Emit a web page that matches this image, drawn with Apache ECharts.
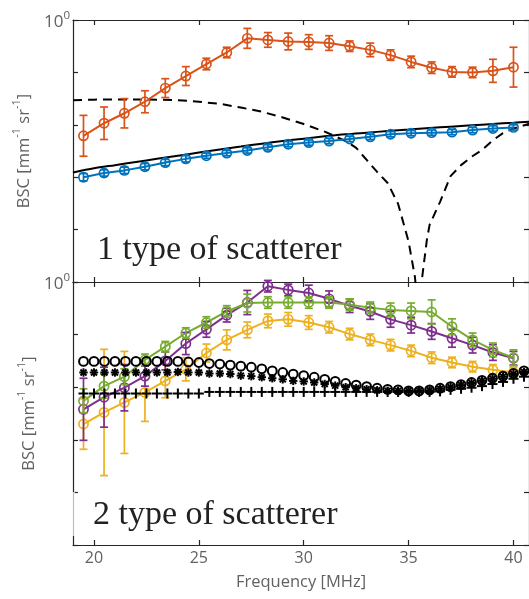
<!DOCTYPE html>
<html><head><meta charset="utf-8">
<script src="https://cdn.jsdelivr.net/npm/echarts@6/dist/echarts.min.js"></script>
<style>html,body{margin:0;padding:0;background:#fff}#c{width:529px;height:599px}</style>
</head><body><div id="c"></div>
<script>
// ---------- data ----------
const freq = [19.5,20.48,21.45,22.43,23.4,24.38,25.36,26.33,27.31,28.29,29.26,30.24,31.21,32.19,33.17,34.14,35.12,36.1,37.07,38.05,39.02,40.0];
const fineFreq = [19.5,20,20.5,21,21.5,22,22.5,23,23.5,24,24.5,25,25.5,26,26.5,27,27.5,28,28.5,29,29.5,30,30.5,31,31.5,32,32.5,33,33.5,34,34.5,35,35.5,36,36.5,37,37.5,38,38.5,39,39.5,40,40.5];
const xTicks = [20,25,30,35,40];

// top panel: 1 type of scatterer
const orangeBSC = [2.79,3.03,3.22,3.44,3.70,3.93,4.16,4.38,4.65,4.62,4.59,4.58,4.56,4.50,4.43,4.33,4.20,4.09,4.01,4.00,4.03,4.10];
const orangeErr = [0.39,0.31,0.28,0.21,0.18,0.18,0.11,0.10,0.19,0.14,0.16,0.14,0.14,0.10,0.13,0.10,0.11,0.11,0.10,0.10,0.22,0.38];
const blueBSC = [2.00,2.08,2.13,2.20,2.28,2.35,2.41,2.46,2.51,2.57,2.63,2.66,2.69,2.73,2.77,2.82,2.84,2.85,2.86,2.90,2.93,2.95];
const blueErr = [0.07,0.06,0.06,0.06,0.06,0.06,0.05,0.05,0.05,0.05,0.05,0.05,0.05,0.05,0.05,0.05,0.05,0.05,0.05,0.05,0.05,0.05];
const theoryFreq = [19,20,21,22,23,24,25,26,27,28,29,30,31,32,33,34,35,36,37,38,39,40,40.75];
const theorySolid = [2.09,2.17,2.23,2.29,2.35,2.41,2.47,2.53,2.585,2.64,2.69,2.735,2.78,2.82,2.85,2.88,2.91,2.94,2.965,2.99,3.015,3.04,3.06];
const dashFreq = [19,20,21,22,23,24,25,26,27,28,29,30,31,32,32.5,33,33.5,34,34.5,35,35.3,35.47,35.65,35.87,36,36.5,37,37.5,38,38.5,39,39.5,40,40.75];
const theoryDashed = [3.47,3.48,3.485,3.485,3.48,3.47,3.44,3.40,3.33,3.25,3.14,3.015,2.87,2.69,2.56,2.33,2.10,1.89,1.49,0.77,0.10,-0.6,0.10,0.80,1.09,1.53,2.02,2.23,2.39,2.52,2.70,2.84,2.93,3.02];

// bottom panel: 2 type of scatterer
const greenBSC = [2.74,3.02,3.20,3.52,3.77,4.03,4.23,4.44,4.60,4.61,4.61,4.61,4.61,4.57,4.51,4.47,4.45,4.43,4.15,3.90,3.71,3.56];
const greenErr = [0.23,0.23,0.15,0.11,0.10,0.10,0.11,0.11,0.17,0.11,0.11,0.11,0.11,0.11,0.11,0.13,0.15,0.23,0.15,0.13,0.13,0.15];
const purpleBSC = [2.58,2.81,2.99,3.21,3.50,3.83,4.10,4.37,4.61,4.92,4.85,4.79,4.68,4.55,4.44,4.29,4.18,4.06,3.93,3.80,3.66,3.55];
const purpleErr = [0.59,0.57,0.44,0.19,0.17,0.21,0.15,0.13,0.23,0.11,0.11,0.15,0.15,0.13,0.15,0.15,0.15,0.15,0.17,0.15,0.15,0.13];
const yellowBSC = [2.30,2.52,2.71,2.90,3.12,3.34,3.65,3.90,4.09,4.26,4.29,4.23,4.14,4.01,3.90,3.80,3.69,3.56,3.47,3.39,3.33,3.28];
const yellowErr = [0.48,1.20,0.97,0.55,0.32,0.22,0.17,0.19,0.15,0.13,0.13,0.13,0.11,0.11,0.11,0.11,0.11,0.11,0.10,0.10,0.10,0.10];
const circleBSC = [3.49,3.49,3.49,3.49,3.49,3.49,3.49,3.49,3.49,3.49,3.48,3.47,3.45,3.44,3.42,3.40,3.38,3.35,3.31,3.28,3.25,3.22,3.19,3.15,3.11,3.07,3.04,3.01,2.98,2.96,2.95,2.93,2.93,2.95,2.98,3.01,3.05,3.09,3.13,3.17,3.21,3.26,3.31];
const starBSC = [3.28,3.28,3.28,3.28,3.28,3.28,3.28,3.28,3.28,3.29,3.28,3.28,3.26,3.26,3.25,3.22,3.21,3.19,3.17,3.15,3.12,3.11,3.09,3.06,3.03,3.00,2.98,2.96,2.94,2.93,2.93,2.93,2.93,2.94,2.97,3.00,3.04,3.08,3.12,3.16,3.20,3.25,3.29];
const plusBSC = [2.88,2.88,2.88,2.88,2.88,2.88,2.88,2.88,2.88,2.88,2.88,2.88,2.91,2.91,2.91,2.91,2.91,2.91,2.91,2.91,2.91,2.91,2.91,2.91,2.91,2.91,2.91,2.91,2.91,2.91,2.91,2.91,2.91,2.91,2.92,2.95,2.97,2.99,3.02,3.06,3.10,3.16,3.20];

// ---------- helpers ----------
const C = {orange:'#D95319', blue:'#0072BD', green:'#77AC30', purple:'#7E2F8E', yellow:'#EDB120'};
const AX = '#262626', LBL = '#616161';
const zip = (xs, ys, es) => xs.map((x,i)=> es ? [x, ys[i], es[i]] : [x, ys[i]]);

function errRender(color){
  return function(params, api){
    const x = api.value(0), y = api.value(1), e = api.value(2);
    const c = api.coord([x,y]), t = api.coord([x,y+e]), b = api.coord([x,y-e]);
    const w = 4, st = {stroke: color, lineWidth: 1.7, fill: null};
    return {type:'group', children:[
      {type:'line', shape:{x1:t[0],y1:t[1],x2:b[0],y2:b[1]}, style:st},
      {type:'line', shape:{x1:t[0]-w,y1:t[1],x2:t[0]+w,y2:t[1]}, style:st},
      {type:'line', shape:{x1:b[0]-w,y1:b[1],x2:b[0]+w,y2:b[1]}, style:st},
      {type:'circle', shape:{cx:c[0],cy:c[1],r:4.6}, style:st}
    ]};
  };
}
function markRender(kind){
  return function(params, api){
    const c = api.coord([api.value(0), api.value(1)]);
    const st = {stroke:'#000', lineWidth: 2, fill: null};
    if (kind === 'o') return {type:'circle', shape:{cx:c[0],cy:c[1],r:4.4}, style:st};
    const s = kind === '+' ? 5 : 4.2;
    const ch = [
      {type:'line', shape:{x1:c[0]-s,y1:c[1],x2:c[0]+s,y2:c[1]}, style:st},
      {type:'line', shape:{x1:c[0],y1:c[1]-s,x2:c[0],y2:c[1]+s}, style:st}
    ];
    if (kind === '*') {
      const d = s*0.72;
      ch.push({type:'line', shape:{x1:c[0]-d,y1:c[1]-d,x2:c[0]+d,y2:c[1]+d}, style:st});
      ch.push({type:'line', shape:{x1:c[0]-d,y1:c[1]+d,x2:c[0]+d,y2:c[1]-d}, style:st});
    }
    return {type:'group', children: ch};
  };
}
const lineS = (xi, yi, data, color, extra) => Object.assign({
  type:'line', xAxisIndex:xi, yAxisIndex:yi, data, showSymbol:false, silent:true,
  lineStyle:{color, width:2}, itemStyle:{color}, animation:false, z:3
}, extra||{});
const errS = (xi, yi, data, color) => ({
  type:'custom', xAxisIndex:xi, yAxisIndex:yi, data, renderItem: errRender(color),
  encode:{x:0,y:1}, animation:false, silent:true, z:4
});
const markS = (data, kind) => ({
  type:'custom', xAxisIndex:2, yAxisIndex:2, data, renderItem: markRender(kind),
  encode:{x:0,y:1}, animation:false, silent:true, z:6
});

const XMIN = 19, XMAX = 40.74;
function xAx(gi, pos, labels){
  return {
    type:'value', gridIndex:gi, position:pos, min:XMIN, max:XMAX,
    axisLine:{show:true, onZero:false, lineStyle:{color:AX, width:1.2}},
    axisTick:{show:true, inside:true, length:5, customValues:xTicks, lineStyle:{color:AX, width:1.2}},
    axisLabel:{show:labels, customValues:xTicks, color:LBL, fontSize:16, fontFamily:'Open Sans', margin:5},
    splitLine:{show:false},
    name: labels ? 'Frequency [MHz]' : '', nameLocation:'middle', nameGap:29,
    nameTextStyle:{color:LBL, fontSize:16.5, fontFamily:'Open Sans'}
  };
}
const yName = '{a|BSC [mm}{s|-1}{a| sr}{s|-1}{a|]}';
const yNameStyle = {color:LBL, fontFamily:'Open Sans', rich:{
  a:{fontSize:16.5, color:LBL, fontFamily:'Open Sans', lineHeight:22, verticalAlign:'bottom'},
  s:{fontSize:11, color:LBL, fontFamily:'Open Sans', lineHeight:13, verticalAlign:'top'}
}};
function yAx(gi, pos, labels, named){
  return {
    type:'value', gridIndex:gi, position:pos, min:0, max:5, interval:1,
    axisLine:{show:true, onZero:false, lineStyle:{color:AX, width:1.2}},
    axisTick:{show:true, inside:true, length:5, lineStyle:{color:AX, width:1.2}},
    axisLabel:{show:labels, margin:3, showMinLabel:true, showMaxLabel:true,
      formatter: v => (v===0 || v===5) ? '{b|10}{s|0}' : '',
      rich:{
        b:{fontSize:17, color:LBL, fontFamily:'Open Sans', lineHeight:21, verticalAlign:'bottom'},
        s:{fontSize:11.5, color:LBL, fontFamily:'Open Sans', lineHeight:12, verticalAlign:'top'}
      }},
    splitLine:{show:false},
    name: named ? yName : '', nameLocation:'middle', nameGap:35, nameRotate:90,
    nameTextStyle: yNameStyle
  };
}

const option = {
  backgroundColor:'#fff',
  animation:false,
  grid:[
    {left:73, top:20, width:460, height:262},
    {left:73, top:282, width:460, height:263}
  ],
  xAxis:[ xAx(0,'bottom',false), xAx(0,'top',false), xAx(1,'bottom',true), xAx(1,'top',false) ],
  yAxis:[ yAx(0,'left',true,true), yAx(0,'right',false,false), yAx(1,'left',false,true), yAx(1,'right',false,false) ],
  series:[
    lineS(0,0, zip(theoryFreq, theorySolid), '#000', {smooth:0.3}),
    lineS(0,0, zip(dashFreq, theoryDashed), '#000', {lineStyle:{color:'#000', width:2, type:[9,6]}}),
    lineS(0,0, zip(freq, orangeBSC), C.orange),
    errS(0,0, zip(freq, orangeBSC, orangeErr), C.orange),
    lineS(0,0, zip(freq, blueBSC), C.blue),
    errS(0,0, zip(freq, blueBSC, blueErr), C.blue),

    lineS(2,2, zip(freq, yellowBSC), C.yellow),
    errS(2,2, zip(freq, yellowBSC, yellowErr), C.yellow),
    lineS(2,2, zip(freq, purpleBSC), C.purple),
    errS(2,2, zip(freq, purpleBSC, purpleErr), C.purple),
    lineS(2,2, zip(freq, greenBSC), C.green),
    errS(2,2, zip(freq, greenBSC, greenErr), C.green),
    markS(zip(fineFreq, circleBSC), 'o'),
    markS(zip(fineFreq, starBSC), '*'),
    markS(zip(fineFreq, plusBSC), '+')
  ],
  graphic:[
    {type:'text', left:97, top:233, z:10, style:{text:'1 type of scatterer', font:'34px "Liberation Serif"', fill:'#222'}},
    {type:'text', left:93, top:498, z:10, style:{text:'2 type of scatterer', font:'34px "Liberation Serif"', fill:'#222'}},
    {type:'rect', left:71, top:492, z:20, shape:{width:4, height:44}, style:{fill:'rgba(255,255,255,0.7)'}}
  ]
};
const chart = echarts.init(document.getElementById('c'), null, {renderer:'canvas'});
chart.setOption(option);
</script></body></html>
